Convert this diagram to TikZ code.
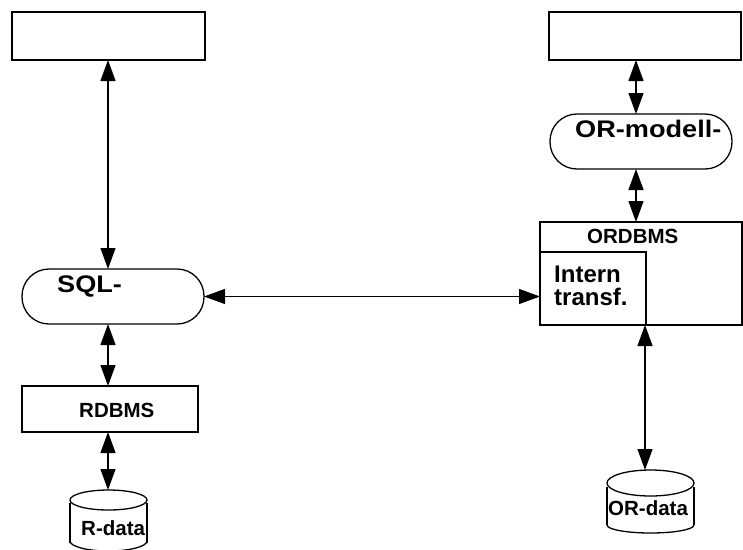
\documentclass[tikz,border=0pt]{standalone}
\usepackage{fontspec}
\setmainfont{Liberation Sans}
\usetikzlibrary{arrows.meta}
\begin{document}
\begin{tikzpicture}[x=1pt,y=-1pt,
  frame/.style={draw, line width=1.3pt, inner sep=0pt, outer sep=0pt},
  pill/.style={frame, rounded corners=27pt},
  lbl/.style={inner sep=0pt, anchor=base west, font=\bfseries\fontsize{20.5}{24}\selectfont},
  biglbl/.style={lbl, font=\bfseries\fontsize{24}{28}\selectfont},
  widelbl/.style={biglbl, font=\bfseries\fontsize{24}{28}\selectfont\addfontfeature{FakeStretch=1.13}},
  link/.style={line width=1.2pt, {Triangle[length=21pt,width=15pt]}-{Triangle[length=21pt,width=15pt]}},
  drum/.style={line width=1.3pt}]
\useasboundingbox (0,0) rectangle (743,549);

% left column
\node[frame, minimum width=193pt, minimum height=48pt] (topL) at (108.5,36) {};
\node[pill, minimum width=182pt, minimum height=55pt] (sql) at (113,296.5) {};
\node[widelbl] (sqltext) at (57,292) {SQL-};
\node[frame, minimum width=176pt, minimum height=46pt] (rdbms) at (110,409) {};
\node[lbl] (rdbmstext) at (79,417) {RDBMS};

% R-data drum
\draw[drum] (108.5,500) ellipse [x radius=38.5, y radius=10];
\draw[drum] (70,503) -- (70,543) (147,503) -- (147,543);
\draw[drum] (70,541) arc[start angle=180, end angle=0, x radius=38.5, y radius=10];
\coordinate (rdatatop) at (108.5,490);
\node[lbl] (rdata) at (81,535) {R-data};

% right column
\node[frame, minimum width=192pt, minimum height=48pt] (topR) at (645,36) {};
\node[pill, minimum width=182pt, minimum height=55pt] (ormod) at (641,141.5) {};
\node[widelbl] (ormodtext) at (575,137) {OR-modell-};
\node[frame, minimum width=202pt, minimum height=103pt] (ordbms) at (641,273.5) {};
\node[lbl] (ordbmstext) at (587,243) {ORDBMS};
\node[frame, minimum width=106pt, minimum height=73pt] (inner) at (593,288.5) {};
\node[biglbl] (interntext) at (554,282) {Intern};
\node[biglbl] (transftext) at (554,305) {transf.};

% OR-data drum
\draw[drum] (650.5,483) ellipse [x radius=43.5, y radius=13];
\draw[drum] (607,487) -- (607,525) (694,487) -- (694,525);
\draw[drum] (607,525) arc[start angle=180, end angle=0, x radius=43.5, y radius=8];
\coordinate (ordatatop) at (650.5,470);
\node[lbl] (ordata) at (608,515) {OR-data};

% connector columns
\coordinate (lc) at (108,0);
\coordinate (rc) at (636,0);
\coordinate (oc) at (645,0);

% connectors
\draw[link] (topL.south -| lc) -- (sql.north -| lc);
\draw[link] (sql.south -| lc) -- (rdbms.north -| lc);
\draw[link] (rdbms.south -| lc) -- (rdatatop -| lc);
\draw[link] (topR.south -| rc) -- (ormod.north -| rc);
\draw[link] (ormod.south -| rc) -- (ordbms.north -| rc);
\draw[link] (sql.east) -- (sql.east -| inner.west);
\draw[link] (inner.south -| oc) -- (ordatatop -| oc);
\end{tikzpicture}
\end{document}
